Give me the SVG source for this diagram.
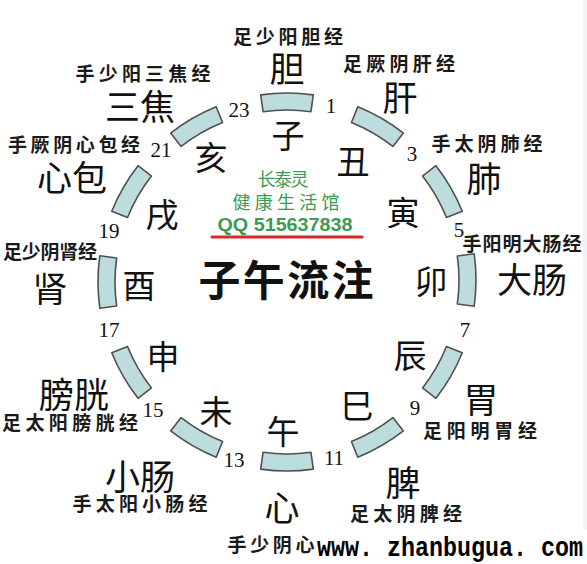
<svg xmlns="http://www.w3.org/2000/svg" xmlns:xlink="http://www.w3.org/1999/xlink" width="587" height="564" viewBox="0 0 587 564">
<style>
.seg{fill:#bcdcde;stroke:#505050;stroke-width:1.6;stroke-linejoin:round}
.br{font-family:"Noto Sans CJK SC","Noto Sans CJK JP",sans-serif;font-size:33px;fill:#111;text-anchor:middle;dominant-baseline:central}
.org{font-family:"Noto Sans CJK SC","Noto Sans CJK JP",sans-serif;font-size:35px;fill:#111;text-anchor:middle;dominant-baseline:central}
.mer{font-family:"Noto Sans CJK SC","Noto Sans CJK JP",sans-serif;font-size:19px;font-weight:bold;fill:#1a1a1a;text-anchor:middle;dominant-baseline:central}
.num{font-family:"Liberation Serif","Times New Roman",serif;font-size:21px;fill:#111;text-anchor:middle}
.grn{font-family:"Noto Sans CJK SC","Noto Sans CJK JP",sans-serif;font-size:18px;fill:#3d9a55;text-anchor:middle;dominant-baseline:central}
</style>
<defs>
<path id="seg" d="M-26.3,-187.16 A189,189 0 0 1 26.3,-187.16 L23.94,-170.33 A172,172 0 0 0 -23.94,-170.33 Z"/>
</defs>
<rect width="587" height="564" fill="#ffffff"/>
<rect x="583" y="0" width="4" height="530" fill="#f1f3f5"/>

<g id="ring">
<use xlink:href="#seg" class="seg" transform="translate(287 282)"/>
<use xlink:href="#seg" class="seg" transform="translate(287 282) rotate(30)"/>
<use xlink:href="#seg" class="seg" transform="translate(287 282) rotate(60)"/>
<use xlink:href="#seg" class="seg" transform="translate(287 280) rotate(90)"/>
<use xlink:href="#seg" class="seg" transform="translate(287 282) rotate(120)"/>
<use xlink:href="#seg" class="seg" transform="translate(287 282) rotate(150)"/>
<use xlink:href="#seg" class="seg" transform="translate(287 282) rotate(180)"/>
<use xlink:href="#seg" class="seg" transform="translate(287 282) rotate(210)"/>
<use xlink:href="#seg" class="seg" transform="translate(287 282) rotate(240)"/>
<use xlink:href="#seg" class="seg" transform="translate(287 282) rotate(270)"/>
<use xlink:href="#seg" class="seg" transform="translate(287 282) rotate(300)"/>
<use xlink:href="#seg" class="seg" transform="translate(287 282) rotate(330)"/>
</g>

<g id="hours">
<text class="num" x="331" y="113">1</text>
<text class="num" x="412" y="161">3</text>
<text class="num" x="459" y="237">5</text>
<text class="num" x="465" y="337">7</text>
<text class="num" x="415" y="415">9</text>
<text class="num" x="334" y="465">11</text>
<text class="num" x="234" y="467">13</text>
<text class="num" x="153" y="417">15</text>
<text class="num" x="109" y="337">17</text>
<text class="num" x="109" y="238">19</text>
<text class="num" x="161" y="157">21</text>
<text class="num" x="239" y="117">23</text>
</g>

<g id="zi">
<text class="br" x="288" y="134">子</text>
<text class="org" x="287" y="66">胆</text>
<text class="mer" x="288" y="35" textLength="110" lengthAdjust="spacing">足少阳胆经</text>
</g>
<g id="chou">
<text class="br" x="353" y="160">丑</text>
<text class="org" x="400" y="95">肝</text>
<text class="mer" x="399" y="62" textLength="112" lengthAdjust="spacing">足厥阴肝经</text>
</g>
<g id="yin">
<text class="br" x="403" y="211">寅</text>
<text class="org" x="484" y="176">肺</text>
<text class="mer" x="487" y="142" textLength="111" lengthAdjust="spacing">手太阴肺经</text>
</g>
<g id="mao">
<text class="br" x="431" y="280">卯</text>
<text class="org" x="532" y="277">大肠</text>
<text class="mer" x="522" y="242" textLength="119" lengthAdjust="spacing">手阳明大肠经</text>
</g>
<g id="chen">
<text class="br" x="410" y="354">辰</text>
<text class="org" x="481" y="397">胃</text>
<text class="mer" x="480" y="429" textLength="114" lengthAdjust="spacing">足阳明胃经</text>
</g>
<g id="si">
<text class="br" x="357" y="404">巳</text>
<text class="org" x="403" y="480">脾</text>
<text class="mer" x="406" y="512" textLength="112" lengthAdjust="spacing">足太阴脾经</text>
</g>
<g id="wu">
<text class="br" x="283" y="430">午</text>
<text class="org" x="282" y="505">心</text>
<text class="mer" x="271" y="543" textLength="87" lengthAdjust="spacing">手少阴心</text>
</g>
<g id="wei">
<text class="br" x="216" y="410">未</text>
<text class="org" x="140" y="474">小肠</text>
<text class="mer" x="140" y="502" textLength="135" lengthAdjust="spacing">手太阳小肠经</text>
</g>
<g id="shen">
<text class="br" x="163" y="355">申</text>
<text class="org" x="74" y="392">膀胱</text>
<text class="mer" x="70" y="421" textLength="136" lengthAdjust="spacing">足太阳膀胱经</text>
</g>
<g id="you">
<text class="br" x="139" y="284">酉</text>
<text class="org" x="50" y="286">肾</text>
<text class="mer" x="50" y="250" textLength="94" lengthAdjust="spacing">足少阴肾经</text>
</g>
<g id="xu">
<text class="br" x="162" y="213">戌</text>
<text class="org" x="72" y="175">心包</text>
<text class="mer" x="74" y="143" textLength="132" lengthAdjust="spacing">手厥阴心包经</text>
</g>
<g id="hai">
<text class="br" x="211" y="156">亥</text>
<text class="org" x="140" y="104">三焦</text>
<text class="mer" x="143" y="72" textLength="135" lengthAdjust="spacing">手少阳三焦经</text>
</g>

<g id="center">
<text class="grn" x="283" y="178" textLength="51" lengthAdjust="spacing">长泰灵</text>
<text class="grn" x="286" y="201" textLength="107" lengthAdjust="spacing">健康生活馆</text>
<text x="285" y="231" font-family="Liberation Sans,Arial,sans-serif" font-size="19" font-weight="bold" fill="#3d9a55" text-anchor="middle" textLength="135" lengthAdjust="spacingAndGlyphs">QQ 515637838</text>
<line x1="212" y1="237" x2="362" y2="237" stroke="#d42a2a" stroke-width="3" stroke-linecap="round"/>
<text x="286" y="277" font-family="Noto Sans CJK SC,Noto Sans CJK JP,sans-serif" font-size="42" font-weight="bold" fill="#111" text-anchor="middle" dominant-baseline="central" textLength="175" lengthAdjust="spacing">子午流注</text>
</g>

<g id="watermark">
<text x="317" y="556" font-family="Liberation Mono,Courier New,monospace" font-size="27" font-weight="bold" fill="#000" textLength="266" lengthAdjust="spacingAndGlyphs">www. zhanbugua. com</text>
</g>
</svg>
